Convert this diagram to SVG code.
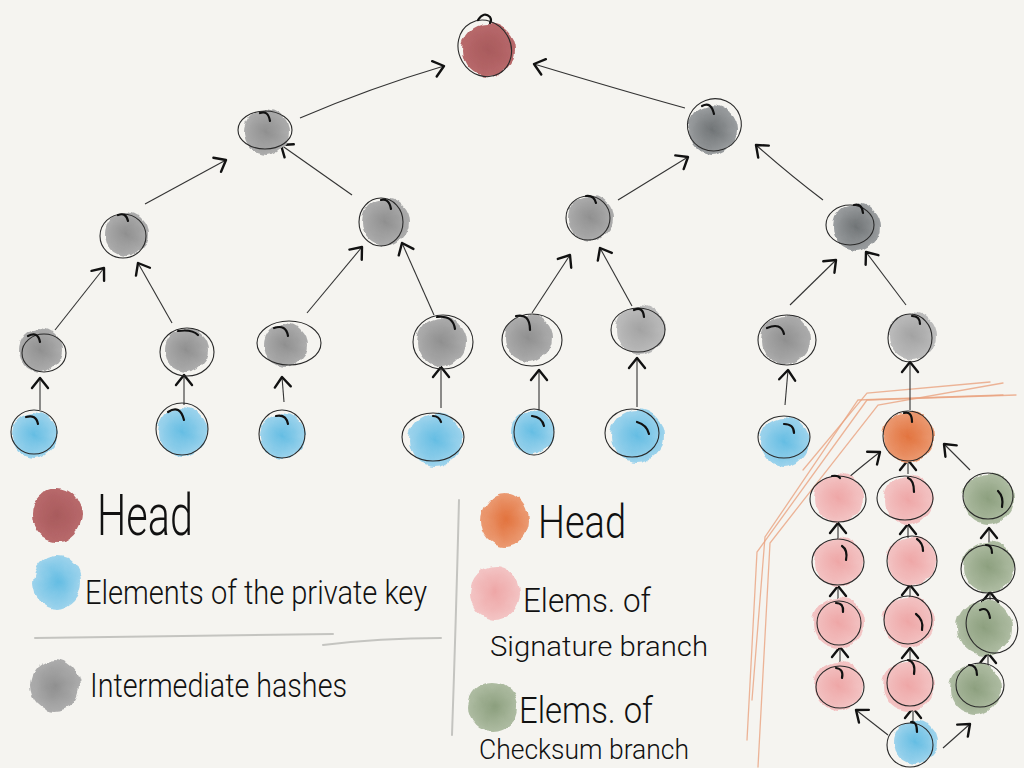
<svg xmlns="http://www.w3.org/2000/svg" width="1024" height="768" viewBox="0 0 1024 768">
<defs>
<style>
.ring{fill:none;stroke:#2a2a2a;stroke-width:1.1}
.hook{fill:none;stroke:#111;stroke-width:2.2;stroke-linecap:round}
.edge{fill:none;stroke:#333;stroke-width:1.1;marker-end:url(#ah)}
.blob{filter:url(#wc)}
.gray{fill:url(#gGray)}
.dgray{fill:url(#gDGray)}
.lgray{fill:url(#gLGray)}
.blue{fill:url(#gBlue)}
.maroon{fill:url(#gMaroon)}
.orange{fill:url(#gOrange)}
.pink{fill:url(#gPink)}
.green{fill:url(#gGreen)}
.txt{font-family:Roboto,'Open Sans','Liberation Sans',sans-serif;font-weight:300;fill:#111}
.sep{fill:none;stroke:#c4c4c0;stroke-width:2;stroke-linecap:round}
.ob{fill:none;stroke:#eaa27f;stroke-width:1.3;stroke-linecap:round;opacity:0.8}
</style>
<radialGradient id="gGray"><stop offset="0" stop-color="#8f8f8f"/><stop offset="1" stop-color="#acacac"/></radialGradient>
<radialGradient id="gDGray"><stop offset="0" stop-color="#6f7375"/><stop offset="1" stop-color="#9a9d9f"/></radialGradient>
<radialGradient id="gLGray"><stop offset="0" stop-color="#a2a2a2"/><stop offset="1" stop-color="#bcbcbc"/></radialGradient>
<radialGradient id="gBlue"><stop offset="0" stop-color="#64bde3"/><stop offset="1" stop-color="#9dd3ec"/></radialGradient>
<radialGradient id="gMaroon"><stop offset="0" stop-color="#a85a5c"/><stop offset="1" stop-color="#b8696b"/></radialGradient>
<radialGradient id="gOrange"><stop offset="0" stop-color="#e2733e"/><stop offset="1" stop-color="#eb9a72"/></radialGradient>
<radialGradient id="gPink"><stop offset="0" stop-color="#eea6a6"/><stop offset="1" stop-color="#f3c4c4"/></radialGradient>
<radialGradient id="gGreen"><stop offset="0" stop-color="#8c9f7e"/><stop offset="1" stop-color="#aebca2"/></radialGradient>
<filter id="wc" x="-30%" y="-30%" width="160%" height="160%">
<feTurbulence type="fractalNoise" baseFrequency="0.07" numOctaves="2" seed="3" result="n"/>
<feDisplacementMap in="SourceGraphic" in2="n" scale="7" xChannelSelector="R" yChannelSelector="G"/>
<feGaussianBlur stdDeviation="0.7"/>
</filter>
<marker id="ah" viewBox="-14 -12 18 24" refX="0" refY="0" markerWidth="18" markerHeight="24" markerUnits="userSpaceOnUse" orient="auto" overflow="visible">
<path d="M-10,-8 L0,0 L-10,8" fill="none" stroke="#111" stroke-width="2.4" stroke-linecap="round" stroke-linejoin="round"/>
</marker>
</defs>
<rect width="1024" height="768" fill="#f5f4f0"/>

<!-- orange bracket strokes -->
<g id="bracket">
<path class="ob" d="M1016,395 L867,400 L757,552 L747,740"/>
<path class="ob" d="M1003,383 L878,405 L770,543 L758,767"/>
<path class="ob" d="M990,382 L867,393 L803,470"/>
<path class="ob" d="M1003,395 L858,400 L765,537 L752,700"/>
</g>

<!-- connectors -->
<g id="connectors">
<path class="edge" d="M300,118 Q370,88 444,66"/>
<path class="edge" d="M685,108 Q620,90 534,64"/>
<path class="edge" d="M145,204 L226,160"/>
<path class="edge" d="M352,195 L281,145"/>
<path class="edge" d="M618,200 L688,157"/>
<path class="edge" d="M823,200 Q790,175 756,145"/>
<path class="edge" d="M55,330 L104,268"/>
<path class="edge" d="M172,323 L138,263"/>
<path class="edge" d="M307,313 L362,247"/>
<path class="edge" d="M434,315 L402,243"/>
<path class="edge" d="M532,313 L570,255"/>
<path class="edge" d="M632,306 L600,248"/>
<path class="edge" d="M790,305 L836,260"/>
<path class="edge" d="M906,305 L866,252"/>
<path class="edge" d="M40,410 L40,378"/>
<path class="edge" d="M184,405 L184,375"/>
<path class="edge" d="M284,402 L282,377"/>
<path class="edge" d="M441,408 L441,367"/>
<path class="edge" d="M539,412 L539,370"/>
<path class="edge" d="M637,407 L637,358"/>
<path class="edge" d="M785,405 L788,370"/>
<path class="edge" d="M910,410 L910,362"/>
<path class="edge" d="M848,478 Q862,466 880,452"/>
<path class="edge" d="M908,474 L908,460"/>
<path class="edge" d="M970,470 L944,444"/>
<path class="edge" d="M838,540 L838,523"/>
<path class="edge" d="M838,601 L838,586"/>
<path class="edge" d="M840,662 L840,647"/>
<path class="edge" d="M908,538 L908,524"/>
<path class="edge" d="M910,600 L910,585"/>
<path class="edge" d="M910,662 L910,648"/>
<path class="edge" d="M989,545 L989,528"/>
<path class="edge" d="M990,606 L990,592"/>
<path class="edge" d="M988,668 L988,653"/>
<path class="edge" d="M888,735 L856,710"/>
<path class="edge" d="M913,725 L913,708"/>
<path class="edge" d="M943,748 L970,724"/>
</g>

<!-- tree nodes -->
<g id="root" transform="translate(488,50)"><circle class="blob maroon" r="27"/><ellipse class="ring" cx="-2" cy="-3" rx="26" ry="29" transform="rotate(-30)"/><path class="hook" d="M-10,-30 q6,-9 12,-3 q2,3 0,6"/></g>
<g id="h1a" transform="translate(266,132)"><circle class="blob gray" r="23"/><ellipse class="ring" cx="-1" cy="-2" rx="27" ry="19"/><path class="hook" d="M-6,-19 q8,-3 10,8"/></g>
<g id="h1b" transform="translate(712,130)"><circle class="blob dgray" r="25"/><ellipse class="ring" cx="4" cy="-4" rx="27" ry="26" transform="rotate(-20)"/><path class="hook" d="M-10,-24 q9,-5 12,8"/></g>
<g id="h2a" transform="translate(126,234)"><circle class="blob gray" r="22"/><ellipse class="ring" cx="-3" cy="2" rx="23" ry="22"/><path class="hook" d="M-8,-19 q8,-3 10,6"/></g>
<g id="h2b" transform="translate(385,222)"><circle class="blob gray" r="24"/><ellipse class="ring" cx="-4" cy="0" rx="22" ry="24"/><path class="hook" d="M-4,-22 q8,-2 10,9"/></g>
<g id="h2c" transform="translate(590,218)"><circle class="blob gray" r="23"/><ellipse class="ring" cx="-2" cy="0" rx="22" ry="22"/><path class="hook" d="M-4,-22 q8,-1 10,7"/></g>
<g id="h2d" transform="translate(856,227)"><circle class="blob dgray" r="24"/><ellipse class="ring" cx="-6" cy="-2" rx="24" ry="20"/><path class="hook" d="M-2,-22 q8,-2 9,8"/></g>
<g id="h3a" transform="translate(40,350)"><circle class="blob gray" r="22"/><ellipse class="ring" cx="4" cy="3" rx="22" ry="19"/><path class="hook" d="M-12,-14 q10,-5 12,6"/></g>
<g id="h3b" transform="translate(186,350)"><circle class="blob gray" r="22"/><ellipse class="ring" cx="1" cy="2" rx="27" ry="24"/><path class="hook" d="M-8,-19 q14,-2 20,4"/></g>
<g id="h3c" transform="translate(285,345)"><circle class="blob gray" r="22"/><ellipse class="ring" cx="4" cy="-2" rx="32" ry="22"/><path class="hook" d="M-11,-17 q12,-4 14,8"/></g>
<g id="h3d" transform="translate(441,342)"><circle class="blob gray" r="25"/><ellipse class="ring" cx="2" cy="0" rx="30" ry="27"/><path class="hook" d="M-4,-25 q16,-2 18,12"/></g>
<g id="h3e" transform="translate(528,338)"><circle class="blob gray" r="24"/><ellipse class="ring" cx="4" cy="2" rx="30" ry="26"/><path class="hook" d="M-12,-22 q14,-3 14,14"/></g>
<g id="h3f" transform="translate(640,330)"><circle class="blob lgray" r="25"/><ellipse class="ring" cx="-2" cy="0" rx="27" ry="22"/><path class="hook" d="M-6,-20 q9,-4 10,7"/></g>
<g id="h3g" transform="translate(785,340)"><circle class="blob gray" r="25"/><ellipse class="ring" cx="2" cy="0" rx="29" ry="25"/><path class="hook" d="M-18,-12 q14,-6 17,6"/></g>
<g id="h3h" transform="translate(912,336)"><circle class="blob lgray" r="24"/><ellipse class="ring" cx="-2" cy="2" rx="22" ry="24"/><path class="hook" d="M0,-20 q8,0 8,8"/></g>

<g id="k1" transform="translate(34,435)"><circle class="blob blue" r="23"/><ellipse class="ring" cx="0" cy="-3" rx="23" ry="22"/><path class="hook" d="M-8,-18 q10,-3 12,7"/></g>
<g id="k2" transform="translate(182,432)"><circle class="blob blue" r="25"/><ellipse class="ring" cx="0" cy="-3" rx="26" ry="26"/><path class="hook" d="M-14,-20 q12,-8 16,8"/></g>
<g id="k3" transform="translate(282,436)"><circle class="blob blue" r="23"/><ellipse class="ring" cx="0" cy="-2" rx="23" ry="24"/><path class="hook" d="M-6,-20 q10,-2 12,8"/></g>
<g id="k4" transform="translate(435,440)"><circle class="blob blue" r="27"/><ellipse class="ring" cx="-2" cy="-3" rx="31" ry="24"/><path class="hook" d="M-2,-24 q6,0 8,6"/></g>
<g id="k5" transform="translate(532,432)"><circle class="blob blue" r="22"/><ellipse class="ring" cx="2" cy="0" rx="20" ry="23"/><path class="hook" d="M0,-16 q10,1 12,10"/></g>
<g id="k6" transform="translate(637,436)"><circle class="blob blue" r="27"/><ellipse class="ring" cx="-5" cy="-3" rx="27" ry="24"/><path class="hook" d="M0,-14 q10,3 12,12"/></g>
<g id="k7" transform="translate(784,442)"><circle class="blob blue" r="25"/><ellipse class="ring" cx="0" cy="-5" rx="26" ry="21"/><path class="hook" d="M0,-18 q10,0 10,9"/></g>

<!-- W-OTS cluster -->
<g id="w_head" transform="translate(908,437)"><circle class="blob orange" r="26"/><ellipse class="ring" cx="0" cy="-1" rx="25" ry="25"/><path class="hook" d="M-4,-24 q8,-2 8,9"/></g>
<g id="s1a" transform="translate(838,498)"><circle class="blob pink" r="25"/><ellipse class="ring" cx="0" cy="1" rx="28" ry="23"/><path class="hook" d="M-6,-22 q6,-1 8,2"/></g>
<g id="s1b" transform="translate(838,562)"><circle class="blob pink" r="25"/><ellipse class="ring" cx="0" cy="0" rx="26" ry="23"/><path class="hook" d="M4,-16 q6,4 4,14"/></g>
<g id="s1c" transform="translate(838,623)"><circle class="blob pink" r="26"/><ellipse class="ring" cx="1" cy="0" rx="22" ry="22"/><path class="hook" d="M-2,-20 q8,0 7,9"/></g>
<g id="s1d" transform="translate(838,686)"><circle class="blob pink" r="25"/><ellipse class="ring" cx="2" cy="1" rx="24" ry="21"/><path class="hook" d="M-2,-18 q8,1 6,10"/></g>
<g id="s2a" transform="translate(908,500)"><circle class="blob pink" r="25"/><ellipse class="ring" cx="-3" cy="-2" rx="28" ry="22"/><path class="hook" d="M0,-22 q6,2 6,14"/></g>
<g id="s2b" transform="translate(911,561)"><circle class="blob pink" r="25"/><ellipse class="ring" cx="1" cy="0" rx="25" ry="25"/><path class="hook" d="M6,-22 q6,4 6,12"/></g>
<g id="s2c" transform="translate(908,622)"><circle class="blob pink" r="26"/><ellipse class="ring" cx="0" cy="-2" rx="24" ry="24"/><path class="hook" d="M8,-8 q8,6 6,16"/></g>
<g id="s2d" transform="translate(908,686)"><circle class="blob pink" r="26"/><ellipse class="ring" cx="2" cy="-3" rx="23" ry="23"/><path class="hook" d="M0,-26 q8,2 6,14"/></g>
<g id="c1" transform="translate(988,499)"><circle class="blob green" r="26"/><ellipse class="ring" cx="0" cy="-3" rx="25" ry="23"/><path class="hook" d="M10,-8 q6,6 4,16"/></g>
<g id="c2" transform="translate(988,567)"><circle class="blob green" r="26"/><ellipse class="ring" cx="0" cy="2" rx="27" ry="24"/><path class="hook" d="M-2,-22 q6,0 6,8"/></g>
<g id="c3" transform="translate(984,628)"><circle class="blob green" r="28"/><ellipse class="ring" cx="8" cy="2" rx="25" ry="28" transform="rotate(-30)"/><path class="hook" d="M-4,-18 q8,-4 10,8"/></g>
<g id="c4" transform="translate(975,689)"><circle class="blob green" r="26"/><ellipse class="ring" cx="5" cy="-4" rx="24" ry="22"/><path class="hook" d="M-6,-24 q8,0 8,10"/></g>
<g id="w_key" transform="translate(915,742)"><circle class="blob blue" r="22"/><ellipse class="ring" cx="-5" cy="3" rx="23" ry="22"/><path class="hook" d="M-4,-20 q6,-1 6,10"/></g>

<!-- legend -->
<g id="legend">
<ellipse class="blob maroon" cx="57" cy="515" rx="25" ry="27"/>
<ellipse class="blob blue" cx="57" cy="582" rx="24" ry="27"/>
<ellipse class="blob gray" cx="55" cy="686" rx="25" ry="26"/>
<ellipse class="blob orange" cx="505" cy="520" rx="24" ry="27"/>
<ellipse class="blob pink" cx="495" cy="593" rx="25" ry="27"/>
<ellipse class="blob green" cx="493" cy="707" rx="25" ry="25"/>
<path class="sep" d="M35,638 Q180,636 333,634"/>
<path class="sep" d="M323,645 Q380,638 441,638"/>
<path class="sep" d="M459,500 Q456,620 452,735"/>
<text class="txt" x="97" y="535" font-size="58" textLength="96" lengthAdjust="spacingAndGlyphs">Head</text>
<text class="txt" x="85" y="604" font-size="33" textLength="342" lengthAdjust="spacingAndGlyphs">Elements of the private key</text>
<text class="txt" x="90" y="697" font-size="33" textLength="257" lengthAdjust="spacingAndGlyphs">Intermediate hashes</text>
<text class="txt" x="538" y="538" font-size="46" textLength="88" lengthAdjust="spacingAndGlyphs">Head</text>
<text class="txt" x="523" y="612" font-size="34" textLength="128" lengthAdjust="spacingAndGlyphs">Elems. of</text>
<text class="txt" x="490" y="656" font-size="28" textLength="218" lengthAdjust="spacingAndGlyphs">Signature branch</text>
<text class="txt" x="519" y="723" font-size="36" textLength="134" lengthAdjust="spacingAndGlyphs">Elems. of</text>
<text class="txt" x="479" y="759" font-size="27" textLength="210" lengthAdjust="spacingAndGlyphs">Checksum branch</text>
</g>
</svg>
